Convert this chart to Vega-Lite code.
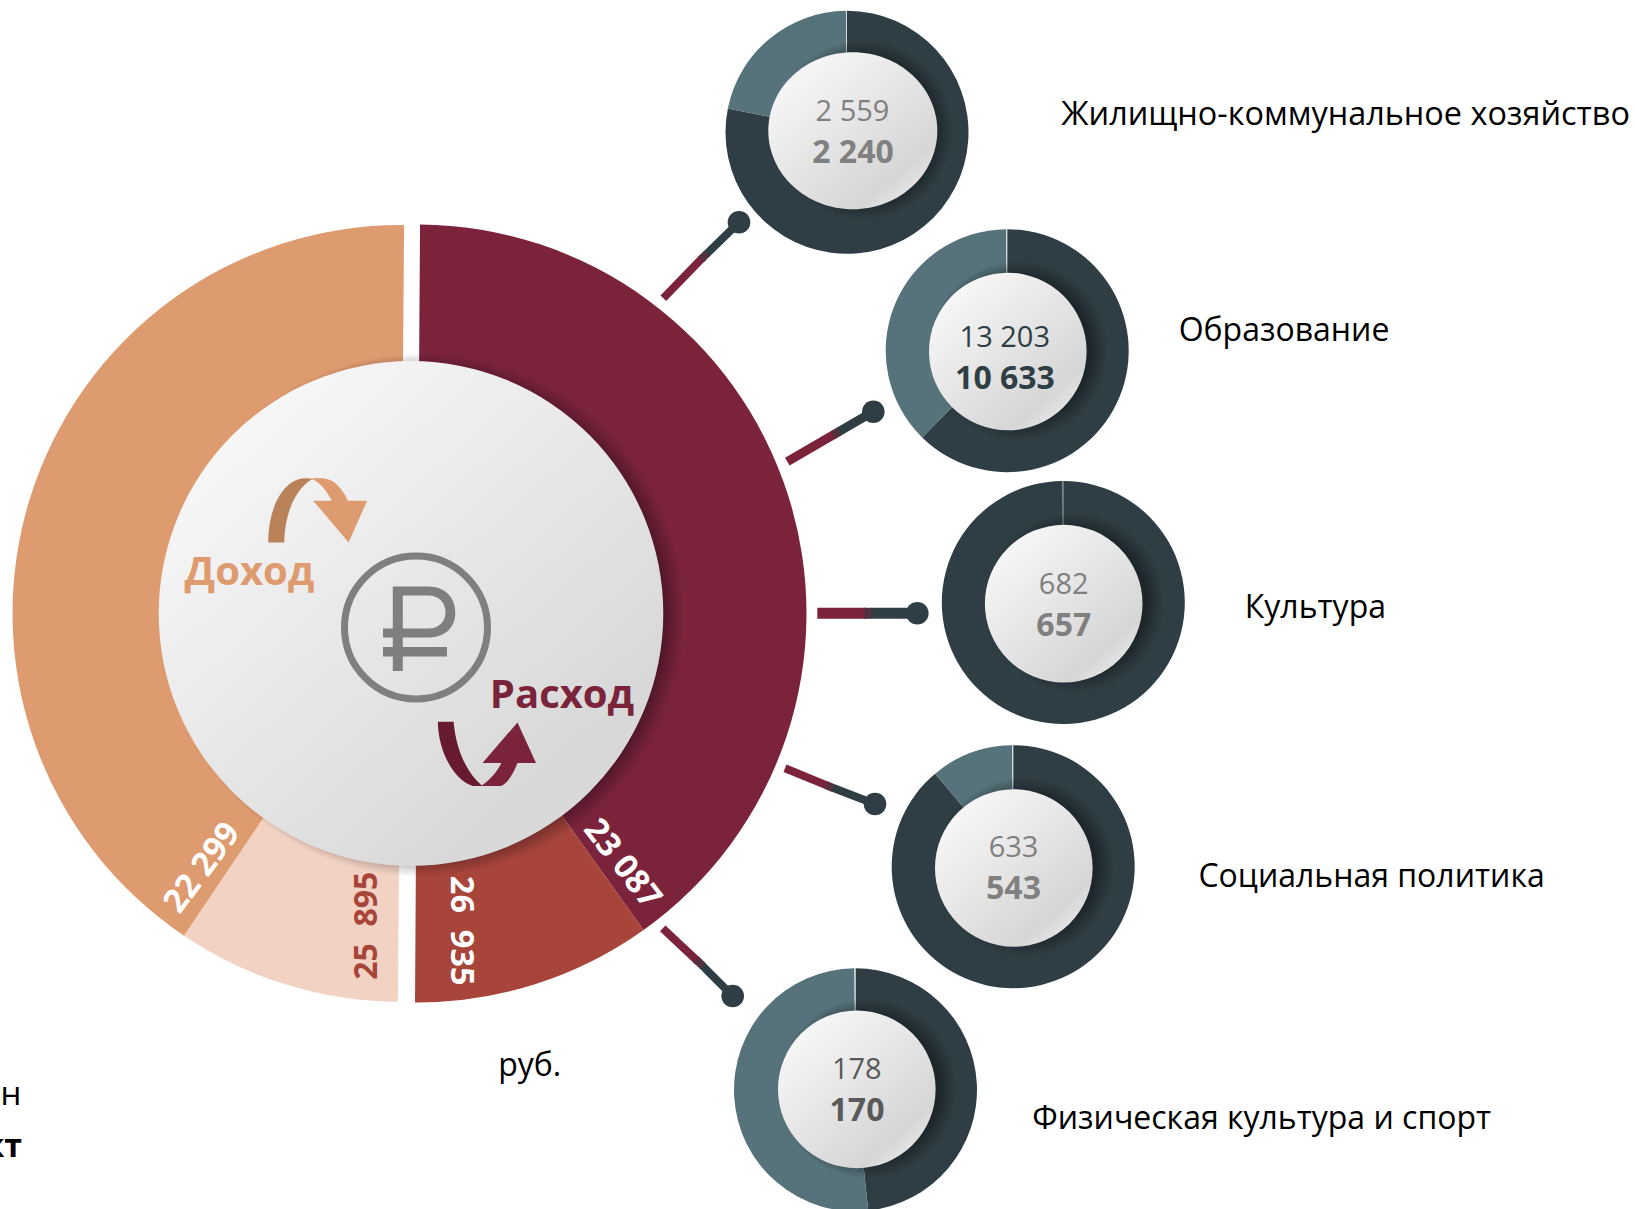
{
"$schema":"https://vega.github.io/schema/vega-lite/v6.json",
"width":1635,"height":1209,"autosize":{"type":"none"},"padding":0,"background":"white",
"config":{"view":{"stroke":null},"axis":{"disable":true},"legend":{"disable":true},"text":{"font":"Open Sans"}},
"datasets":{
"income":[{"part":"Доход план","label":"25\u00a0\u00a0895","share":33.5,"ord":1},{"part":"Доход факт","label":"22 299","share":146.5,"ord":2}],
"expense":[{"part":"Расход факт","label":"23 087","share":144.1,"ord":1},{"part":"Расход план","label":"26\u00a0\u00a0935","share":35.9,"ord":2}],
"d1":[{"part":"Исполнено","share":281.3,"ord":1},{"part":"Остаток","share":78.2,"ord":2},{"part":"Линия","share":0.5,"ord":3}],
"d2":[{"part":"Исполнено","share":224.4,"ord":1},{"part":"Остаток","share":135.1,"ord":2},{"part":"Линия","share":0.5,"ord":3}],
"d3":[{"part":"Исполнено","share":359.6,"ord":1},{"part":"Остаток","share":0.4,"ord":2}],
"d4":[{"part":"Исполнено","share":320,"ord":1},{"part":"Остаток","share":39.5,"ord":2},{"part":"Линия","share":0.5,"ord":3}],
"d5":[{"part":"Исполнено","share":174,"ord":1},{"part":"Остаток","share":185.5,"ord":2},{"part":"Линия","share":0.5,"ord":3}],
"one":[{"n":1}]
},
"resolve":{"scale":{"theta":"independent"}},
"layer":[
{"data":{"name":"one"},"mark":{"type":"point","opacity":0},"encoding":{"x":{"datum":0,"scale":{"domain":[0,1635],"nice":false,"zero":false}},"y":{"datum":0,"scale":{"domain":[0,1209],"nice":false,"zero":false,"reverse":true}}}},

{"data":{"name":"income"},"mark":{"type":"arc","outerRadius":388.5,"innerRadius":235},"encoding":{"x":{"datum":401},"y":{"datum":613.5},"theta":{"field":"share","type":"quantitative","scale":{"domain":[0,180],"range":[3.1496,6.2912]}},"order":{"field":"ord"},"color":{"field":"part","scale":{"domain":["Доход факт","Доход план","Расход факт","Расход план","Исполнено","Остаток","Линия"],"range":["#DE9B6F","#F2D3C3","#7A233B","#A8453B","#2F3E44","#56737B","#D5DEE0"]}}}},
{"data":{"name":"expense"},"mark":{"type":"arc","outerRadius":389,"innerRadius":235},"encoding":{"x":{"datum":417.5},"y":{"datum":613.5},"theta":{"field":"share","type":"quantitative","scale":{"domain":[0,180],"range":[0.0065,3.148]}},"order":{"field":"ord"},"color":{"field":"part"}}},

{"data":{"name":"one"},"mark":{"type":"point","filled":true,"opacity":1,"strokeWidth":0,"shape":"circle","size":274576,"fill":{"gradient":"radial","x1":0.5,"y1":0.5,"r1":0,"x2":0.5,"y2":0.5,"r2":0.5,"stops":[{"offset":0.88,"color":"rgba(20,5,15,0.62)"},{"offset":1,"color":"rgba(20,5,15,0)"}]}},"encoding":{"x":{"datum":422},"y":{"datum":615}}},
{"data":{"name":"one"},"mark":{"type":"point","filled":true,"opacity":1,"strokeWidth":0,"shape":"circle","size":254620,"fill":{"gradient":"linear","x1":0.1,"y1":0.05,"x2":0.9,"y2":0.95,"stops":[{"offset":0,"color":"#FAFAFA"},{"offset":0.85,"color":"#D8D8D8"},{"offset":1,"color":"#DADADA"}]}},"encoding":{"x":{"datum":411},"y":{"datum":613.5}}},

{"data":{"name":"one"},"mark":{"type":"point","filled":false,"opacity":1,"shape":"circle","size":20450,"stroke":"#7F7F7F","strokeWidth":7},"encoding":{"x":{"datum":416},"y":{"datum":627.5}}},
{"data":{"name":"one"},"mark":{"type":"point","filled":true,"opacity":1,"strokeWidth":0,"size":4,"fill":"#7F7F7F","shape":"M -23.2 -41 L 12 -41 C 30 -41 39.3 -29 39.3 -15 C 39.3 0 29 10 12 10 L -13.2 10 L -13.2 19.6 L 31 19.6 L 31 29 L -13.2 29 L -13.2 43.5 L -23.2 43.5 L -23.2 29 L -33 29 L -33 19.6 L -23.2 19.6 L -23.2 10 L -33 10 L -33 1 L -23.2 1 Z M -13.2 -32 L -13.2 1 L 12 1 C 24 1 29.5 -7 29.5 -15 C 29.5 -24 24 -32 12 -32 Z"},"encoding":{"x":{"datum":416},"y":{"datum":627.5}}},

{"data":{"name":"one"},"mark":{"type":"point","filled":true,"opacity":1,"strokeWidth":0,"size":4,"fill":"#B98259","shape":"M -51.8 32.4 L -35.7 32.4 C -35 0 -23 -22 -8 -30.7 C -12 -32 -14 -32 -16 -31.7 C -38 -30 -52 0 -51.8 32.4 Z"},"encoding":{"x":{"datum":320},"y":{"datum":510}}},
{"data":{"name":"one"},"mark":{"type":"point","filled":true,"opacity":1,"strokeWidth":0,"size":4,"fill":"#DE9B6F","shape":"M -15 -31.7 L 2.9 -31.7 C 14 -31 22 -22 27.9 -9.3 L 47.1 -9.3 L 28.6 32.4 L -6.8 -9.3 L 11.8 -9.3 C 6 -20 0 -28 -8 -30.7 C -11 -32 -13 -32 -15 -31.7 Z"},"encoding":{"x":{"datum":320},"y":{"datum":510}}},
{"data":{"name":"one"},"mark":{"type":"point","filled":true,"opacity":1,"strokeWidth":0,"size":4,"fill":"#681B30","shape":"M -47.1 -33.3 L -31.4 -33.3 C -29 -5 -18 18 -3.2 30.5 L 4 31 L -12 31 C -32 25 -47 -5 -47.1 -33.3 Z"},"encoding":{"x":{"datum":485},"y":{"datum":755}}},
{"data":{"name":"one"},"mark":{"type":"point","filled":true,"opacity":1,"strokeWidth":0,"size":4,"fill":"#7A233B","shape":"M -3.2 30.5 C 6 24 12 17 16.4 8.1 L -2.5 8.1 L 32.5 -32.6 L 51 8.1 L 32.5 8.1 C 27 22 20 31 14.6 31 L -6 31 Z"},"encoding":{"x":{"datum":485},"y":{"datum":755}}},

{"data":{"values":[{"t":"Доход"}]},"mark":{"type":"text","fontSize":40,"fontWeight":"bold","font":"Open Sans","fill":"#DE9B6F","align":"center","baseline":"middle"},"encoding":{"x":{"datum":249.5},"y":{"datum":573},"text":{"field":"t"}}},
{"data":{"values":[{"t":"Расход"}]},"mark":{"type":"text","fontSize":40,"fontWeight":"bold","font":"Open Sans","fill":"#7A233B","align":"center","baseline":"middle"},"encoding":{"x":{"datum":562},"y":{"datum":696},"text":{"field":"t"}}},

{"data":{"name":"income"},"transform":[{"filter":"datum.ord===2"}],"mark":{"type":"text","fontSize":33,"fontWeight":"bold","fill":"white","angle":307,"align":"center","baseline":"middle"},"encoding":{"x":{"datum":202.5},"y":{"datum":868},"text":{"field":"label"}}},
{"data":{"name":"income"},"transform":[{"filter":"datum.ord===1"}],"mark":{"type":"text","fontSize":32,"fontWeight":"bold","fill":"#A8453B","angle":270,"align":"center","baseline":"middle"},"encoding":{"x":{"datum":367.3},"y":{"datum":925.7},"text":{"field":"label"}}},
{"data":{"name":"expense"},"transform":[{"filter":"datum.ord===2"}],"mark":{"type":"text","fontSize":32.5,"fontWeight":"bold","fill":"white","angle":90,"align":"center","baseline":"middle"},"encoding":{"x":{"datum":461},"y":{"datum":930.7},"text":{"field":"label"}}},
{"data":{"name":"expense"},"transform":[{"filter":"datum.ord===1"}],"mark":{"type":"text","fontSize":33,"fontWeight":"bold","fill":"white","angle":52,"align":"center","baseline":"middle"},"encoding":{"x":{"datum":622},"y":{"datum":864},"text":{"field":"label"}}},

{"data":{"name":"one"},"mark":{"type":"rule","stroke":"#7A233B","strokeWidth":8},"encoding":{"x":{"datum":663.3},"y":{"datum":298.3},"x2":{"datum":703.3},"y2":{"datum":257}}},
{"data":{"name":"one"},"mark":{"type":"rule","stroke":"#2F3E44","strokeWidth":8},"encoding":{"x":{"datum":706},"y":{"datum":254.5},"x2":{"datum":739},"y2":{"datum":222.3}}},
{"data":{"name":"one"},"mark":{"type":"rule","stroke":"#55303F","strokeWidth":8},"encoding":{"x":{"datum":701},"y":{"datum":259.5},"x2":{"datum":707},"y2":{"datum":253.5}}},
{"data":{"name":"one"},"mark":{"type":"point","filled":true,"opacity":1,"strokeWidth":0,"shape":"circle","size":511,"fill":"#2F3E44"},"encoding":{"x":{"datum":739},"y":{"datum":222.3}}},
{"data":{"name":"one"},"mark":{"type":"rule","stroke":"#7A233B","strokeWidth":9},"encoding":{"x":{"datum":787.3},"y":{"datum":461.7},"x2":{"datum":835},"y2":{"datum":433.9}}},
{"data":{"name":"one"},"mark":{"type":"rule","stroke":"#2F3E44","strokeWidth":9},"encoding":{"x":{"datum":838},"y":{"datum":432.2},"x2":{"datum":873.3},"y2":{"datum":411.7}}},
{"data":{"name":"one"},"mark":{"type":"rule","stroke":"#55303F","strokeWidth":9},"encoding":{"x":{"datum":833},"y":{"datum":435.1},"x2":{"datum":839},"y2":{"datum":431.6}}},
{"data":{"name":"one"},"mark":{"type":"point","filled":true,"opacity":1,"strokeWidth":0,"shape":"circle","size":511,"fill":"#2F3E44"},"encoding":{"x":{"datum":873.3},"y":{"datum":411.7}}},
{"data":{"name":"one"},"mark":{"type":"rule","stroke":"#7A233B","strokeWidth":11},"encoding":{"x":{"datum":817.3},"y":{"datum":613.3},"x2":{"datum":866},"y2":{"datum":613.3}}},
{"data":{"name":"one"},"mark":{"type":"rule","stroke":"#2F3E44","strokeWidth":11},"encoding":{"x":{"datum":870},"y":{"datum":613.3},"x2":{"datum":917.3},"y2":{"datum":613.3}}},
{"data":{"name":"one"},"mark":{"type":"rule","stroke":"#55303F","strokeWidth":11},"encoding":{"x":{"datum":864},"y":{"datum":613.3},"x2":{"datum":871},"y2":{"datum":613.3}}},
{"data":{"name":"one"},"mark":{"type":"point","filled":true,"opacity":1,"strokeWidth":0,"shape":"circle","size":511,"fill":"#2F3E44"},"encoding":{"x":{"datum":917.3},"y":{"datum":613.3}}},
{"data":{"name":"one"},"mark":{"type":"rule","stroke":"#7A233B","strokeWidth":8},"encoding":{"x":{"datum":785},"y":{"datum":768.3},"x2":{"datum":828},"y2":{"datum":785.9}}},
{"data":{"name":"one"},"mark":{"type":"rule","stroke":"#2F3E44","strokeWidth":8},"encoding":{"x":{"datum":832},"y":{"datum":787.5},"x2":{"datum":875},"y2":{"datum":804}}},
{"data":{"name":"one"},"mark":{"type":"rule","stroke":"#55303F","strokeWidth":8},"encoding":{"x":{"datum":826},"y":{"datum":785},"x2":{"datum":833},"y2":{"datum":788}}},
{"data":{"name":"one"},"mark":{"type":"point","filled":true,"opacity":1,"strokeWidth":0,"shape":"circle","size":511,"fill":"#2F3E44"},"encoding":{"x":{"datum":875},"y":{"datum":804}}},
{"data":{"name":"one"},"mark":{"type":"rule","stroke":"#7A233B","strokeWidth":8},"encoding":{"x":{"datum":662.7},"y":{"datum":928.3},"x2":{"datum":698},"y2":{"datum":961.5}}},
{"data":{"name":"one"},"mark":{"type":"rule","stroke":"#2F3E44","strokeWidth":8},"encoding":{"x":{"datum":702},"y":{"datum":965.2},"x2":{"datum":732.7},"y2":{"datum":996}}},
{"data":{"name":"one"},"mark":{"type":"rule","stroke":"#55303F","strokeWidth":8},"encoding":{"x":{"datum":696},"y":{"datum":959.5},"x2":{"datum":703},"y2":{"datum":966}}},
{"data":{"name":"one"},"mark":{"type":"point","filled":true,"opacity":1,"strokeWidth":0,"shape":"circle","size":511,"fill":"#2F3E44"},"encoding":{"x":{"datum":732.7},"y":{"datum":996}}},

{"data":{"name":"d1"},"mark":{"type":"arc","outerRadius":121.5,"innerRadius":70},"encoding":{"x":{"datum":847},"y":{"datum":132.3},"theta":{"field":"share","type":"quantitative","scale":{"domain":[0,360]}},"order":{"field":"ord"},"color":{"field":"part"}}},
{"data":{"name":"d2"},"mark":{"type":"arc","outerRadius":121.5,"innerRadius":70},"encoding":{"x":{"datum":1007.2},"y":{"datum":350.7},"theta":{"field":"share","type":"quantitative","scale":{"domain":[0,360]}},"order":{"field":"ord"},"color":{"field":"part"}}},
{"data":{"name":"d3"},"mark":{"type":"arc","outerRadius":121.5,"innerRadius":70},"encoding":{"x":{"datum":1063.3},"y":{"datum":602.5},"theta":{"field":"share","type":"quantitative","scale":{"domain":[0,360]}},"order":{"field":"ord"},"color":{"field":"part"}}},
{"data":{"name":"d4"},"mark":{"type":"arc","outerRadius":121.5,"innerRadius":70},"encoding":{"x":{"datum":1013.2},"y":{"datum":866.7},"theta":{"field":"share","type":"quantitative","scale":{"domain":[0,360]}},"order":{"field":"ord"},"color":{"field":"part"}}},
{"data":{"name":"d5"},"mark":{"type":"arc","outerRadius":121.5,"innerRadius":70},"encoding":{"x":{"datum":855.5},"y":{"datum":1089.8},"theta":{"field":"share","type":"quantitative","scale":{"domain":[0,360]}},"order":{"field":"ord"},"color":{"field":"part"}}},

{"data":{"name":"one"},"mark":{"type":"point","filled":true,"opacity":1,"strokeWidth":0,"shape":"circle","size":32400,"fill":{"gradient":"radial","x1":0.5,"y1":0.5,"r1":0,"x2":0.5,"y2":0.5,"r2":0.5,"stops":[{"offset":0.8,"color":"rgba(10,15,18,0.5)"},{"offset":1,"color":"rgba(10,15,18,0)"}]}},"encoding":{"x":{"datum":863},"y":{"datum":130}}},
{"data":{"name":"one"},"mark":{"type":"point","filled":true,"opacity":1,"strokeWidth":0,"shape":"circle","size":32400,"fill":{"gradient":"radial","x1":0.5,"y1":0.5,"r1":0,"x2":0.5,"y2":0.5,"r2":0.5,"stops":[{"offset":0.8,"color":"rgba(10,15,18,0.5)"},{"offset":1,"color":"rgba(10,15,18,0)"}]}},"encoding":{"x":{"datum":1018},"y":{"datum":350.5}}},
{"data":{"name":"one"},"mark":{"type":"point","filled":true,"opacity":1,"strokeWidth":0,"shape":"circle","size":32400,"fill":{"gradient":"radial","x1":0.5,"y1":0.5,"r1":0,"x2":0.5,"y2":0.5,"r2":0.5,"stops":[{"offset":0.8,"color":"rgba(10,15,18,0.5)"},{"offset":1,"color":"rgba(10,15,18,0)"}]}},"encoding":{"x":{"datum":1074},"y":{"datum":602.5}}},
{"data":{"name":"one"},"mark":{"type":"point","filled":true,"opacity":1,"strokeWidth":0,"shape":"circle","size":32400,"fill":{"gradient":"radial","x1":0.5,"y1":0.5,"r1":0,"x2":0.5,"y2":0.5,"r2":0.5,"stops":[{"offset":0.8,"color":"rgba(10,15,18,0.5)"},{"offset":1,"color":"rgba(10,15,18,0)"}]}},"encoding":{"x":{"datum":1024},"y":{"datum":867}}},
{"data":{"name":"one"},"mark":{"type":"point","filled":true,"opacity":1,"strokeWidth":0,"shape":"circle","size":32400,"fill":{"gradient":"radial","x1":0.5,"y1":0.5,"r1":0,"x2":0.5,"y2":0.5,"r2":0.5,"stops":[{"offset":0.8,"color":"rgba(10,15,18,0.5)"},{"offset":1,"color":"rgba(10,15,18,0)"}]}},"encoding":{"x":{"datum":867},"y":{"datum":1088.5}}},

{"data":{"name":"one"},"mark":{"type":"point","filled":true,"opacity":1,"strokeWidth":0,"size":4,"shape":"M -84.5 0 A 84.5 78.5 0 1 1 84.5 0 A 84.5 78.5 0 1 1 -84.5 0 Z","fill":{"gradient":"linear","x1":0.1,"y1":0.05,"x2":0.9,"y2":0.95,"stops":[{"offset":0,"color":"#FAFAFA"},{"offset":0.82,"color":"#D6D6D6"},{"offset":1,"color":"#EDEDED"}]}},"encoding":{"x":{"datum":852.8},"y":{"datum":130.8}}},
{"data":{"name":"one"},"mark":{"type":"point","filled":true,"opacity":1,"strokeWidth":0,"shape":"circle","size":24840,"fill":{"gradient":"linear","x1":0.1,"y1":0.05,"x2":0.9,"y2":0.95,"stops":[{"offset":0,"color":"#FAFAFA"},{"offset":0.82,"color":"#D6D6D6"},{"offset":1,"color":"#EDEDED"}]}},"encoding":{"x":{"datum":1007.8},"y":{"datum":351.5}}},
{"data":{"name":"one"},"mark":{"type":"point","filled":true,"opacity":1,"strokeWidth":0,"shape":"circle","size":24840,"fill":{"gradient":"linear","x1":0.1,"y1":0.05,"x2":0.9,"y2":0.95,"stops":[{"offset":0,"color":"#FAFAFA"},{"offset":0.82,"color":"#D6D6D6"},{"offset":1,"color":"#EDEDED"}]}},"encoding":{"x":{"datum":1063.7},"y":{"datum":603.7}}},
{"data":{"name":"one"},"mark":{"type":"point","filled":true,"opacity":1,"strokeWidth":0,"shape":"circle","size":24840,"fill":{"gradient":"linear","x1":0.1,"y1":0.05,"x2":0.9,"y2":0.95,"stops":[{"offset":0,"color":"#FAFAFA"},{"offset":0.82,"color":"#D6D6D6"},{"offset":1,"color":"#EDEDED"}]}},"encoding":{"x":{"datum":1013.8},"y":{"datum":868}}},
{"data":{"name":"one"},"mark":{"type":"point","filled":true,"opacity":1,"strokeWidth":0,"shape":"circle","size":24840,"fill":{"gradient":"linear","x1":0.1,"y1":0.05,"x2":0.9,"y2":0.95,"stops":[{"offset":0,"color":"#FAFAFA"},{"offset":0.82,"color":"#D6D6D6"},{"offset":1,"color":"#EDEDED"}]}},"encoding":{"x":{"datum":856.8},"y":{"datum":1089.3}}},

{"data":{"values":[{"t":"2 559"}]},"mark":{"type":"text","fontSize":29,"fill":"#808080","align":"center","baseline":"middle"},"encoding":{"x":{"datum":852.5},"y":{"datum":111.5},"text":{"field":"t"}}},
{"data":{"values":[{"t":"2 240"}]},"mark":{"type":"text","fontSize":32,"fontWeight":"bold","fill":"#808080","align":"center","baseline":"middle"},"encoding":{"x":{"datum":853},"y":{"datum":152.5},"text":{"field":"t"}}},
{"data":{"values":[{"t":"13 203"}]},"mark":{"type":"text","fontSize":29,"fill":"#2F3E44","align":"center","baseline":"middle"},"encoding":{"x":{"datum":1004.8},"y":{"datum":337.8},"text":{"field":"t"}}},
{"data":{"values":[{"t":"10 633"}]},"mark":{"type":"text","fontSize":32,"fontWeight":"bold","fill":"#2F3E44","align":"center","baseline":"middle"},"encoding":{"x":{"datum":1005},"y":{"datum":378.8},"text":{"field":"t"}}},
{"data":{"values":[{"t":"682"}]},"mark":{"type":"text","fontSize":29,"fill":"#808080","align":"center","baseline":"middle"},"encoding":{"x":{"datum":1063.7},"y":{"datum":584.8},"text":{"field":"t"}}},
{"data":{"values":[{"t":"657"}]},"mark":{"type":"text","fontSize":32,"fontWeight":"bold","fill":"#808080","align":"center","baseline":"middle"},"encoding":{"x":{"datum":1063.8},"y":{"datum":625.8},"text":{"field":"t"}}},
{"data":{"values":[{"t":"633"}]},"mark":{"type":"text","fontSize":29,"fill":"#808080","align":"center","baseline":"middle"},"encoding":{"x":{"datum":1013.5},"y":{"datum":848.2},"text":{"field":"t"}}},
{"data":{"values":[{"t":"543"}]},"mark":{"type":"text","fontSize":32,"fontWeight":"bold","fill":"#808080","align":"center","baseline":"middle"},"encoding":{"x":{"datum":1013.5},"y":{"datum":888.8},"text":{"field":"t"}}},
{"data":{"values":[{"t":"178"}]},"mark":{"type":"text","fontSize":29,"fill":"#595959","align":"center","baseline":"middle"},"encoding":{"x":{"datum":856.8},"y":{"datum":1069.7},"text":{"field":"t"}}},
{"data":{"values":[{"t":"170"}]},"mark":{"type":"text","fontSize":32,"fontWeight":"bold","fill":"#595959","align":"center","baseline":"middle"},"encoding":{"x":{"datum":857},"y":{"datum":1110.5},"text":{"field":"t"}}},

{"data":{"values":[{"t":"Жилищно-коммунальное хозяйство"}]},"mark":{"type":"text","fontSize":32.4,"fill":"#000000","align":"center","baseline":"middle"},"encoding":{"x":{"datum":1345.6},"y":{"datum":114.5},"text":{"field":"t"}}},
{"data":{"values":[{"t":"Образование"}]},"mark":{"type":"text","fontSize":32,"fill":"#000000","align":"center","baseline":"middle"},"encoding":{"x":{"datum":1284},"y":{"datum":331},"text":{"field":"t"}}},
{"data":{"values":[{"t":"Культура"}]},"mark":{"type":"text","fontSize":32,"fill":"#000000","align":"center","baseline":"middle"},"encoding":{"x":{"datum":1315.4},"y":{"datum":608},"text":{"field":"t"}}},
{"data":{"values":[{"t":"Социальная политика"}]},"mark":{"type":"text","fontSize":32,"fill":"#000000","align":"center","baseline":"middle"},"encoding":{"x":{"datum":1371.6},"y":{"datum":877},"text":{"field":"t"}}},
{"data":{"values":[{"t":"Физическая культура и спорт"}]},"mark":{"type":"text","fontSize":32,"fill":"#000000","align":"center","baseline":"middle"},"encoding":{"x":{"datum":1261.7},"y":{"datum":1119},"text":{"field":"t"}}},
{"data":{"values":[{"t":"руб."}]},"mark":{"type":"text","fontSize":32,"fill":"#000000","align":"center","baseline":"middle"},"encoding":{"x":{"datum":529.7},"y":{"datum":1065.5},"text":{"field":"t"}}},
{"data":{"values":[{"t":"План"}]},"mark":{"type":"text","fontSize":33,"fill":"#000000","align":"right","baseline":"alphabetic"},"encoding":{"x":{"datum":21.5},"y":{"datum":1104.5},"text":{"field":"t"}}},
{"data":{"values":[{"t":"Факт"}]},"mark":{"type":"text","fontSize":32,"fontWeight":"bold","fill":"#000000","align":"right","baseline":"alphabetic"},"encoding":{"x":{"datum":22},"y":{"datum":1157},"text":{"field":"t"}}}
]
}
